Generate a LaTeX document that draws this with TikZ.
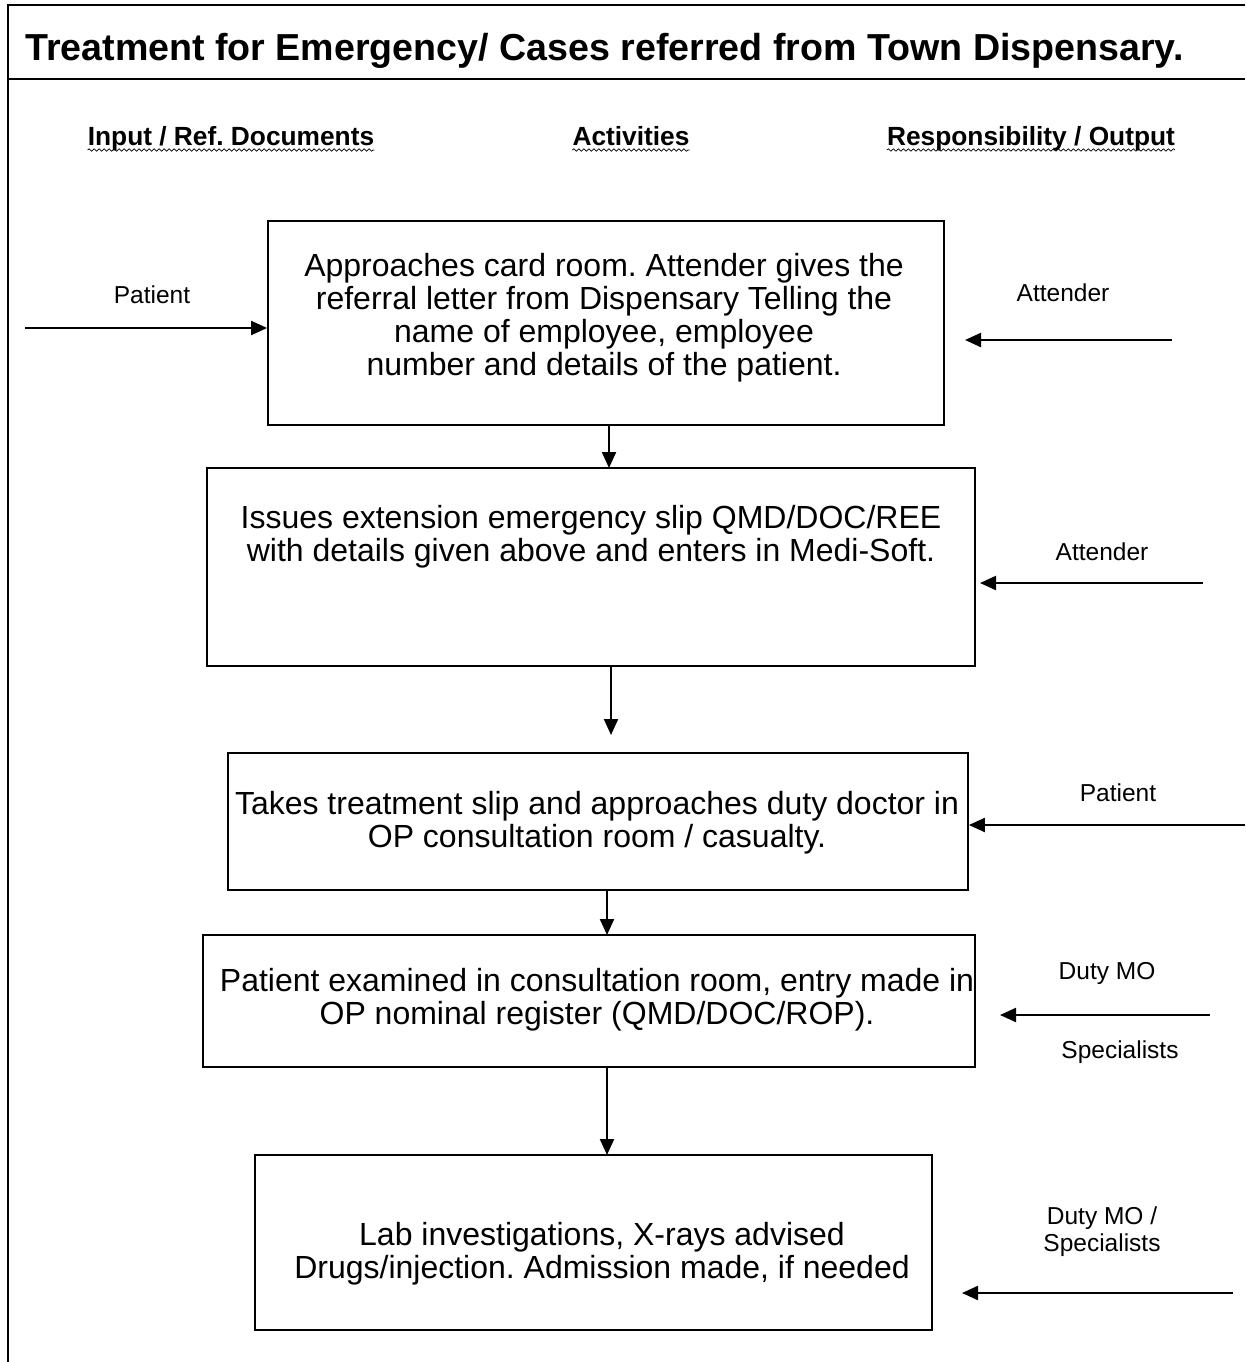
\documentclass[tikz,border=0pt]{standalone}
\usepackage{fontspec}
\setmainfont{Liberation Sans}
\usetikzlibrary{arrows.meta,decorations.pathmorphing}
\frenchspacing

\begin{document}
\begin{tikzpicture}[x=1pt,y=-1pt,
  box/.style={draw,line width=1.8pt,inner sep=0pt},
  body/.style={font=\fontsize{32}{33}\selectfont,align=center,inner sep=0pt},
  lbl/.style={font=\fontsize{24.5}{27}\selectfont,align=center,inner sep=0pt},
  head/.style={font=\bfseries\fontsize{26.3}{28}\selectfont,inner sep=0pt,anchor=base},
  wavy/.style={decorate,decoration={snake,amplitude=1.2pt,segment length=5pt},line width=0.7pt},
  flow/.style={line width=2.2pt,-{Triangle[length=16pt,width=14pt]}},
  frame/.style={line width=2.4pt}]

\useasboundingbox (0,0) rectangle (1245,1362);

% page frame and title rule
\coordinate (fTL) at (8,5);
\coordinate (fTR) at (1245,5);
\coordinate (fBL) at (8,1362);
\coordinate (rL) at (8,79);
\coordinate (rR) at (1245,79);
\draw[frame] (fTR) -- (fTL) -- (fBL);
\draw[frame] (rL) -- (rR);

% title
\node[anchor=west,inner sep=0pt,font=\bfseries\fontsize{37.6}{40}\selectfont] (title) at (25,51)
  {Treatment for Emergency/ Cases referred from Town Dispensary.};

% column headings
\node[head] (h1) at (231,146) {Input / Ref. Documents};
\node[head] (h2) at (631,146) {Activities};
\node[head] (h3) at (1031,146) {Responsibility / Output};
\foreach \h in {h1,h2,h3}
  \draw[wavy] ([yshift=-4pt]\h.base west) -- ([yshift=-4pt]\h.base east);

% activity boxes
\node[box,minimum width=676pt,minimum height=204pt] (b1) at (606,323) {};
\node[box,minimum width=768pt,minimum height=198pt] (b2) at (591,567) {};
\node[box,minimum width=740pt,minimum height=137pt] (b3) at (598,821.5) {};
\node[box,minimum width=772pt,minimum height=132pt] (b4) at (589,1001) {};
\node[box,minimum width=677pt,minimum height=175pt] (b5) at (593.5,1242.5) {};

\node[body] (t1) at (604,318) {Approaches card room. Attender gives the\\
  referral letter from Dispensary Telling the\\
  name of employee, employee\\
  number and details of the patient.};
\node[body] (t2) at (591,537) {Issues extension emergency slip QMD/DOC/REE\\
  with details given above and enters in Medi-Soft.};
\node[body] (t3) at (597,823) {Takes treatment slip and approaches duty doctor in\\
  OP consultation room / casualty.};
\node[body] (t4) at (597,1000) {Patient examined in consultation room, entry made in\\
  OP nominal register (QMD/DOC/ROP).};
\node[body] (t5) at (602,1254) {Lab investigations, X-rays advised\\
  Drugs/injection. Admission made, if needed};

% flow between boxes
\coordinate (d1) at (609,468);
\coordinate (d2) at (611,735);
\coordinate (d3) at (607,935);
\coordinate (d4) at (607,1155);
\draw[flow] (b1.south -| d1) -- (d1);
\draw[flow] (b2.south -| d2) -- (d2);
\draw[flow] (b3.south -| d3) -- (d3);
\draw[flow] (b4.south -| d4) -- (d4);

% inputs and responsibilities
\coordinate (in1) at (25,328);
\draw[flow] (in1) -- (b1.west |- in1);
\node[lbl] (l1) at (152,295) {Patient};

\coordinate (r1s) at (1172,340);
\coordinate (r1e) at (965,340);
\draw[flow] (r1s) -- (r1e);
\node[lbl] (l2) at (1063,293) {Attender};

\coordinate (r2s) at (1203,583);
\coordinate (r2e) at (980,583);
\draw[flow] (r2s) -- (r2e);
\node[lbl] (l3) at (1102,552) {Attender};

\coordinate (r3s) at (1245,825);
\draw[flow] (r3s) -- (b3.east |- r3s);
\node[lbl] (l4) at (1118,793) {Patient};

\coordinate (r4s) at (1210,1015);
\coordinate (r4e) at (1000,1015);
\draw[flow] (r4s) -- (r4e);
\node[lbl] (l5) at (1107,973) {Duty MO};
\node[lbl] (l6) at (1120,1052) {Specialists};

\coordinate (r5s) at (1233,1293);
\coordinate (r5e) at (962,1293);
\draw[flow] (r5s) -- (r5e);
\node[lbl] (l7) at (1102,1232) {Duty MO /\\Specialists};

\end{tikzpicture}
\end{document}
